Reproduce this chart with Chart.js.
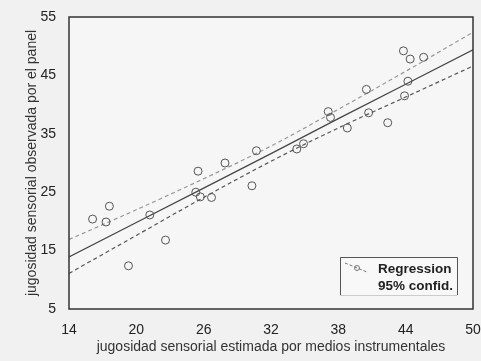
<!DOCTYPE html>
<html>
<head>
<meta charset="utf-8">
<script src="https://cdn.jsdelivr.net/npm/chart.js@4.4.1/dist/chart.umd.min.js"></script>
<style>
html,body{margin:0;padding:0;background:#f1f1f1;}
#wrap{width:481px;height:361px;position:relative;}
</style>
</head>
<body>
<div id="wrap"><canvas id="c" width="481" height="361"></canvas></div>
<script>
// Observed points (x: estimated instrumentally, y: observed by panel)
const obsX = [16.1, 17.3, 17.6, 19.3, 21.2, 22.6, 25.5, 25.3, 25.7, 26.7, 27.9, 30.3, 30.7,
              34.3, 34.9, 37.1, 37.3, 38.8, 40.5, 40.7, 42.4, 43.8, 44.4, 45.6, 44.2, 43.9];
const obsY = [20.4, 19.9, 22.6, 12.4, 21.1, 16.8, 28.6, 25.0, 24.2, 24.1, 30.0, 26.1, 32.1,
              32.4, 33.3, 38.8, 37.8, 36.0, 42.6, 38.6, 36.9, 49.2, 47.8, 48.1, 44.0, 41.5];
// Regression line and 95% confidence band read at these x positions
const lineX = [14, 20, 26, 32, 38, 44, 50];
const regY = [13.9, 19.8, 25.7, 31.6, 37.6, 43.5, 49.4];
const upperY = [16.9, 22.0, 27.3, 32.9, 39.2, 45.7, 52.4];
const lowerY = [11.1, 17.6, 24.1, 30.3, 36.0, 41.3, 46.6];
const xTicks = [14, 20, 26, 32, 38, 44, 50];
const yTicks = [5, 15, 25, 35, 45, 55];
const xTitle = 'jugosidad sensorial estimada por medios instrumentales';
const yTitle = 'jugosidad sensorial observada por el panel';
const legendLabels = ['Regression', '95% confid.'];

const pts = (xs, ys) => xs.map((x, i) => ({x: x, y: ys[i]}));
const FONT = "'Liberation Sans', Arial, sans-serif";

const framePlugin = {
  id: 'frame',
  beforeDraw(chart) {
    const {ctx, chartArea: a} = chart;
    ctx.save();
    ctx.fillStyle = '#f6f6f6';
    ctx.fillRect(a.left, a.top, a.right - a.left, a.bottom - a.top);
    ctx.restore();
  },
  afterDraw(chart) {
    const {ctx, chartArea: a} = chart;
    ctx.save();
    ctx.strokeStyle = '#333';
    ctx.lineWidth = 1.5;
    ctx.strokeRect(a.left, a.top, a.right - a.left, a.bottom - a.top);
    // legend box
    const lx = 340, ly = 257, lw = 117, lh = 38;
    ctx.fillStyle = '#f8f8f8';
    ctx.fillRect(lx, ly, lw, lh);
    ctx.lineWidth = 1;
    ctx.strokeStyle = '#555';
    ctx.beginPath();
    ctx.moveTo(lx + 0.5, ly + lh);
    ctx.lineTo(lx + 0.5, ly + 0.5);
    ctx.lineTo(lx + lw + 0.5, ly + 0.5);
    ctx.lineTo(lx + lw + 0.5, ly + lh);
    ctx.stroke();
    ctx.strokeStyle = '#ccc';
    ctx.beginPath();
    ctx.moveTo(lx, ly + lh + 0.5);
    ctx.lineTo(lx + lw, ly + lh + 0.5);
    ctx.stroke();
    // legend sample
    ctx.strokeStyle = '#777';
    ctx.setLineDash([3, 2]);
    ctx.beginPath();
    ctx.moveTo(345, 263);
    ctx.lineTo(367, 272);
    ctx.stroke();
    ctx.setLineDash([]);
    ctx.beginPath();
    ctx.arc(357, 268, 2.5, 0, Math.PI * 2);
    ctx.stroke();
    ctx.fillStyle = '#222';
    ctx.font = 'bold 13.5px ' + FONT;
    ctx.textBaseline = 'middle';
    ctx.textAlign = 'left';
    ctx.fillText(legendLabels[0], 378, 269);
    ctx.fillText(legendLabels[1], 378, 286);
    ctx.restore();
  }
};

new Chart(document.getElementById('c'), {
  type: 'scatter',
  data: {
    datasets: [
      {label: 'obs', data: pts(obsX, obsY), showLine: false, pointRadius: 4,
       pointBorderColor: '#555', pointBackgroundColor: 'rgba(0,0,0,0)', pointBorderWidth: 1},
      {label: 'reg', data: pts(lineX, regY), showLine: true, pointRadius: 0,
       borderColor: '#444', borderWidth: 1.2, tension: 0},
      {label: 'up', data: pts(lineX, upperY), showLine: true, pointRadius: 0,
       borderColor: '#999', borderWidth: 1.2, borderDash: [4, 3], cubicInterpolationMode: 'monotone'},
      {label: 'lo', data: pts(lineX, lowerY), showLine: true, pointRadius: 0,
       borderColor: '#555', borderWidth: 1.2, borderDash: [4, 3], cubicInterpolationMode: 'monotone'}
    ]
  },
  options: {
    responsive: false,
    animation: false,
    layout: {padding: {top: 17, right: 8, left: 0, bottom: 0}},
    plugins: {legend: {display: false}, tooltip: {enabled: false}},
    scales: {
      x: {
        type: 'linear', min: 14, max: 50,
        afterBuildTicks(s) { s.ticks = xTicks.map(v => ({value: v})); },
        afterFit(s) { s.height = 52; s.paddingRight = 0; s.paddingLeft = 0; },
        grid: {display: false},
        border: {display: false},
        ticks: {color: '#222', font: {family: FONT, size: 14}, padding: 5, maxRotation: 0},
        title: {display: true, text: xTitle, color: '#333', font: {family: FONT, size: 14}, padding: {top: 0, bottom: 5}}
      },
      y: {
        type: 'linear', min: 5, max: 55,
        afterBuildTicks(s) { s.ticks = yTicks.map(v => ({value: v})); },
        afterFit(s) { s.width = 69; s.paddingTop = 0; s.paddingBottom = 0; },
        grid: {display: false},
        border: {display: false},
        ticks: {color: '#222', font: {family: FONT, size: 14}, padding: 5},
        title: {display: true, text: yTitle, color: '#333', font: {family: FONT, size: 14}, padding: {top: 24, bottom: 0}}
      }
    }
  },
  plugins: [framePlugin]
});
</script>
</body>
</html>
